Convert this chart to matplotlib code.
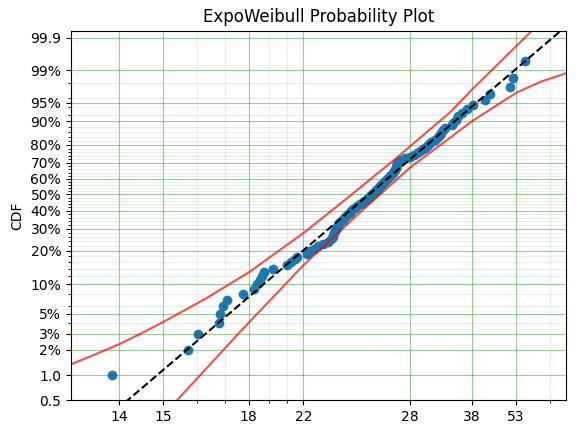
import numpy as np
import matplotlib
matplotlib.use("Agg")
import matplotlib.pyplot as plt
from matplotlib.ticker import FixedLocator, NullFormatter

# failure times (sorted), in the units of the plot's log axis
times = [
    2.871, 4.716, 5.032, 5.772, 5.799, 5.925, 6.082, 6.738, 7.254, 7.383,
    7.529, 7.613, 7.728, 8.210, 8.997, 9.199, 9.461, 9.585, 10.21, 10.43,
    10.71, 10.99, 11.36, 11.73, 12.01, 12.12, 12.16, 12.20, 12.28, 12.36,
    12.44, 12.53, 12.61, 12.77, 12.94, 13.07, 13.20, 13.37, 13.55, 13.61,
    13.81, 14.00, 14.23, 14.46, 14.65, 14.84, 15.04, 15.23, 15.43, 15.59,
    15.74, 15.95, 16.10, 16.26, 16.42, 16.58, 16.75, 16.91, 17.08, 17.25,
    17.42, 17.59, 17.76, 17.93, 18.11, 18.23, 18.29, 18.35, 18.39, 18.44,
    18.65, 18.90, 19.40, 20.04, 20.57, 20.98, 21.39, 21.86, 22.18, 22.46,
    22.69, 22.98, 23.59, 24.06, 24.37, 24.61, 24.86, 25.18, 26.31, 26.62,
    27.06, 27.47, 28.23, 29.02, 30.18, 32.69, 33.77, 38.48, 39.17, 42.45,
]
# CDF estimates (Nelson-Aalen plotting positions)
cdf = [
    0.0100, 0.0199, 0.0299, 0.0398, 0.0498, 0.0597, 0.0697, 0.0796, 0.0896, 0.0995,
    0.1095, 0.1194, 0.1294, 0.1393, 0.1493, 0.1592, 0.1692, 0.1791, 0.1891, 0.1990,
    0.2090, 0.2189, 0.2289, 0.2388, 0.2488, 0.2587, 0.2687, 0.2786, 0.2886, 0.2985,
    0.3085, 0.3184, 0.3284, 0.3383, 0.3483, 0.3582, 0.3682, 0.3781, 0.3881, 0.3980,
    0.4080, 0.4179, 0.4279, 0.4378, 0.4478, 0.4577, 0.4677, 0.4776, 0.4876, 0.4975,
    0.5075, 0.5174, 0.5274, 0.5373, 0.5473, 0.5572, 0.5672, 0.5771, 0.5871, 0.5970,
    0.6070, 0.6169, 0.6269, 0.6368, 0.6468, 0.6567, 0.6667, 0.6766, 0.6866, 0.6965,
    0.7065, 0.7164, 0.7264, 0.7363, 0.7463, 0.7562, 0.7662, 0.7761, 0.7861, 0.7960,
    0.8060, 0.8159, 0.8259, 0.8358, 0.8458, 0.8557, 0.8657, 0.8756, 0.8856, 0.8955,
    0.9054, 0.9154, 0.9253, 0.9353, 0.9452, 0.9551, 0.9651, 0.9750, 0.9848, 0.9944,
]

# fitted model (straight on this paper), end points
model_x = [2.650, 55.46]
model_F = [0.002532, 0.999626]

# confidence bounds
upper_x = [2.041, 2.188, 2.564, 3.005, 3.462, 4.006, 5.290, 7.021, 10.08, 13.26,
           17.97, 26.02, 30.18, 43.85, 46.82]
upper_F = [0.01181, 0.01341, 0.01751, 0.02298, 0.03028, 0.04064, 0.07168, 0.1299,
           0.2823, 0.4735, 0.7131, 0.9267, 0.9732, 0.99934, 0.99974]
lower_x = [4.130, 4.387, 6.680, 9.987, 14.15, 20.04, 30.18, 40.11, 47.13, 55.57, 60.75]
lower_F = [0.003767, 0.005, 0.03298, 0.1495, 0.3711, 0.6706, 0.9017, 0.9677, 0.98133,
           0.98826, 0.99112]

x_ticks = [3, 4, 7, 10, 20, 30, 40]
x_tick_labels = ['14', '15', '18', '22', '28', '38', '53']
y_ticks = [0.005, 0.01, 0.02, 0.03, 0.05, 0.1, 0.2, 0.3, 0.4, 0.5, 0.6, 0.7, 0.8, 0.9, 0.95, 0.99, 0.999]
y_tick_labels = ['0.5', '1.0', '2%', '3%', '5%', '10%', '20%', '30%', '40%', '50%',
                 '60%', '70%', '80%', '90%', '95%', '99%', '99.9']
y_minor = list(np.round(np.arange(0.02, 0.99, 0.02), 2))

mu = 3.0  # exponentiated weibull shape used for the y paper


def fwd(F):
    F = np.clip(np.asarray(F, dtype=float), 1e-12, 1 - 1e-12)
    return np.log(-np.log(1 - F ** (1 / mu)))


def inv(g):
    return (1 - np.exp(-np.exp(g))) ** mu


fig = plt.figure(figsize=(5.76, 4.34), dpi=100)
ax = fig.add_subplot(111)
fig.subplots_adjust(left=0.123, right=0.983, bottom=0.078, top=0.929)

ax.set_xscale('log')
ax.set_yscale('function', functions=(fwd, inv))

ax.scatter(times, cdf)
ax.plot(model_x, model_F, color='k', linestyle='--')
ax.plot(upper_x, upper_F, color='r', alpha=0.7)
ax.plot(lower_x, lower_F, color='r', alpha=0.7)

ax.set_xlim(2.193, 55.56)
ax.set_ylim(0.005, 0.99944)

ax.set_xticks(x_ticks)
ax.set_xticklabels(x_tick_labels)
ax.xaxis.set_minor_formatter(NullFormatter())
ax.set_yticks(y_ticks)
ax.set_yticklabels(y_tick_labels)
ax.yaxis.set_minor_locator(FixedLocator(y_minor))
ax.yaxis.set_minor_formatter(NullFormatter())

ax.grid(True, which='major', color='g', alpha=0.4, linestyle='-')
ax.grid(True, which='minor', color='g', alpha=0.1, linestyle='-')

ax.set_title('ExpoWeibull Probability Plot')
ax.set_ylabel('CDF')

fig.savefig('out.png')
